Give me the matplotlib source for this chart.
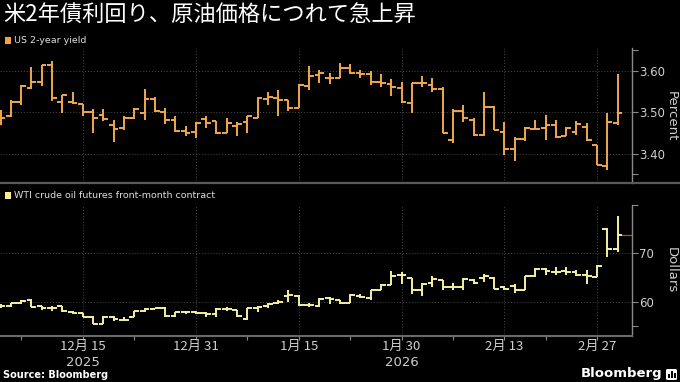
import matplotlib
matplotlib.use("Agg")
import matplotlib.pyplot as plt
from matplotlib.collections import LineCollection
from matplotlib.lines import Line2D
from matplotlib.patches import Rectangle, FancyBboxPatch
import numpy as np

# ---------------- data ----------------
title = "米2年債利回り、原油価格につれて急上昇"
yield_label = "US 2-year yield"
oil_label = "WTI crude oil futures front-month contract"

date_tick_pos = [8, 19, 29, 39, 49, 58]
date_tick_labels = ["12月 15", "12月 31", "1月 15", "1月 30", "2月 13", "2月 27"]
minor_tick_pos = [2, 13, 24, 34, 44, 53]
year_pos = [8, 39]
year_labels = ["2025", "2026"]

yield_open = [3.490, 3.490, 3.524, 3.560, 3.574, 3.615, 3.524, 3.524, 3.519, 3.500,
              3.494, 3.469, 3.461, 3.486, 3.499, 3.532, 3.500, 3.481, 3.455, 3.453,
              3.483, 3.479, 3.451, 3.467, 3.477, 3.486, 3.532, 3.534, 3.530, 3.511,
              3.564, 3.590, 3.582, 3.582, 3.607, 3.594, 3.593, 3.573, 3.569, 3.558,
              3.522, 3.570, 3.566, 3.556, 3.433, 3.504, 3.481, 3.445, 3.512, 3.453,
              3.410, 3.435, 3.459, 3.461, 3.469, 3.443, 3.453, 3.464, 3.421, 3.369, 3.473]
yield_high = [3.506, 3.530, 3.566, 3.609, 3.615, 3.625, 3.542, 3.549, 3.520, 3.507,
              3.507, 3.481, 3.491, 3.510, 3.556, 3.538, 3.510, 3.490, 3.467, 3.477,
              3.490, 3.480, 3.486, 3.477, 3.491, 3.538, 3.548, 3.554, 3.530, 3.568,
              3.612, 3.603, 3.596, 3.620, 3.617, 3.603, 3.599, 3.593, 3.580, 3.574,
              3.572, 3.588, 3.582, 3.561, 3.507, 3.518, 3.486, 3.548, 3.515, 3.477,
              3.440, 3.465, 3.482, 3.494, 3.481, 3.465, 3.480, 3.475, 3.421, 3.498, 3.593]
yield_low = [3.469, 3.489, 3.518, 3.556, 3.564, 3.528, 3.499, 3.520, 3.490, 3.451,
             3.480, 3.427, 3.457, 3.483, 3.481, 3.500, 3.472, 3.453, 3.443, 3.437,
             3.461, 3.448, 3.449, 3.443, 3.451, 3.486, 3.518, 3.491, 3.503, 3.510,
             3.553, 3.570, 3.568, 3.582, 3.593, 3.582, 3.566, 3.562, 3.540, 3.522,
             3.499, 3.562, 3.550, 3.451, 3.425, 3.477, 3.443, 3.443, 3.456, 3.397,
             3.383, 3.431, 3.456, 3.433, 3.437, 3.443, 3.445, 3.431, 3.372, 3.360, 3.469]
yield_close = [3.486, 3.524, 3.564, 3.574, 3.615, 3.534, 3.542, 3.522, 3.500, 3.486,
               3.483, 3.459, 3.486, 3.507, 3.532, 3.502, 3.481, 3.455, 3.449, 3.475,
               3.475, 3.451, 3.475, 3.472, 3.491, 3.534, 3.536, 3.530, 3.510, 3.566,
               3.588, 3.594, 3.582, 3.607, 3.594, 3.593, 3.573, 3.570, 3.561, 3.524,
               3.572, 3.570, 3.556, 3.451, 3.502, 3.486, 3.445, 3.514, 3.457, 3.410,
               3.435, 3.461, 3.459, 3.469, 3.440, 3.461, 3.472, 3.433, 3.373, 3.477, 3.499]

oil_open = [59.1, 59.1, 59.8, 60.3, 59.0, 58.6, 59.0, 57.9, 57.6, 56.9,
            55.4, 56.9, 56.2, 56.75, 58.1, 58.55, 58.6, 57.0, 57.9, 57.85,
            57.6, 57.45, 58.55, 58.2, 56.3, 58.6, 59.1, 59.65, 61.2, 61.2,
            59.3, 59.1, 60.7, 60.3, 59.8, 61.2, 60.7, 62.5, 63.4, 65.6,
            64.8, 62.4, 63.8, 64.5, 63.1, 63.0, 64.5, 64.8, 64.8, 63.0,
            63.2, 62.4, 65.2, 66.7, 66.2, 66.4, 66.2, 65.5, 65.0, 75.0, 70.8]
oil_high = [59.5, 59.8, 60.35, 60.5, 59.1, 59.1, 59.1, 58.05, 57.7, 57.0,
            57.0, 57.0, 56.75, 58.05, 58.6, 58.75, 58.8, 57.9, 58.1, 58.05,
            57.8, 58.6, 58.9, 58.3, 58.6, 59.1, 59.65, 60.3, 62.3, 61.4,
            59.65, 60.7, 60.9, 60.4, 61.5, 61.5, 62.5, 63.6, 66.4, 66.2,
            64.8, 63.8, 65.3, 64.5, 63.9, 64.8, 64.6, 65.8, 65.0, 63.2,
            63.6, 65.3, 66.9, 66.9, 67.1, 67.1, 66.5, 66.5, 67.6, 75.2, 77.7]
oil_low = [58.7, 58.95, 59.5, 58.8, 58.25, 58.1, 57.9, 57.45, 56.75, 55.3,
           55.3, 56.05, 56.05, 56.75, 57.9, 58.4, 56.9, 56.9, 57.45, 57.35,
           56.9, 56.75, 58.0, 56.9, 56.1, 57.9, 58.6, 59.5, 60.0, 59.1,
           58.95, 58.8, 59.5, 59.5, 59.65, 60.7, 60.3, 62.3, 63.4, 63.6,
           61.6, 61.2, 63.1, 62.5, 62.4, 62.5, 63.6, 64.1, 62.7, 62.3,
           61.8, 62.3, 65.0, 65.5, 65.5, 65.5, 65.3, 63.6, 65.0, 69.2, 70.3]
oil_close = [59.1, 59.65, 60.2, 58.95, 58.6, 58.75, 58.05, 57.6, 56.9, 55.4,
             56.9, 56.35, 56.2, 58.05, 58.55, 58.6, 57.0, 57.9, 57.85, 57.6,
             57.45, 58.55, 58.5, 57.0, 58.6, 58.95, 59.5, 60.0, 61.4, 59.3,
             59.3, 60.5, 60.6, 59.8, 61.4, 60.9, 62.5, 63.4, 65.3, 65.6,
             62.4, 63.6, 64.6, 63.1, 63.1, 64.6, 63.9, 65.3, 62.7, 62.7,
             62.3, 65.2, 66.7, 66.4, 66.2, 66.2, 65.5, 65.3, 67.4, 70.8, 73.8]

yield_ticks = [3.40, 3.50, 3.60]
yield_minor = [3.35, 3.65]
oil_ticks = [60, 70]
oil_minor = [55, 80]

# ---------------- style ----------------
BG = "black"
ORANGE = "#F2A84E"
YELLOW = "#F4F0A2"
GRID = "#4a4a4a"
AXC = "#8a8a8a"
TXT = "#cfcfcf"
CJK = ["Noto Sans CJK JP", "DejaVu Sans"]

W, H = 680, 382
fig = plt.figure(figsize=(W / 100, H / 100), dpi=100, facecolor=BG)


def fy(px):
    return 1 - px / H


def fx(px):
    return px / W


ax1 = fig.add_axes([0, fy(183), fx(632), (183 - 48) / H], facecolor=BG)
ax2 = fig.add_axes([0, fy(336), fx(632), (336 - 205) / H], facecolor=BG)


def ohlc(ax, o, h, l, c, color, w=0.47, lw=1.4):
    xs = np.arange(len(o))
    segs = []
    for x, oo, hh, ll, cc in zip(xs, o, h, l, c):
        segs.append([(x, ll), (x, hh)])
        segs.append([(x - w, oo), (x, oo)])
        segs.append([(x, cc), (x + w, cc)])
    ax.add_collection(LineCollection(segs, colors=color, linewidths=lw,
                                     capstyle="butt", zorder=3))


ohlc(ax1, yield_open, yield_high, yield_low, yield_close, ORANGE)
ohlc(ax2, oil_open, oil_high, oil_low, oil_close, YELLOW)

XMAX = 61.4
for ax in (ax1, ax2):
    ax.set_xlim(-0.05, XMAX)
    ax.set_xticks(date_tick_pos)
    ax.set_xticks(minor_tick_pos, minor=True)
    ax.grid(True, which="major", color=GRID, linestyle=(0, (1, 2)), linewidth=0.7)
    ax.yaxis.tick_right()
    ax.tick_params(axis="y", which="both", direction="out", length=4, width=0.8,
                   color=AXC, labelcolor=TXT, labelsize=8.5, pad=1)
    for s in ("top", "left"):
        ax.spines[s].set_visible(False)
    ax.spines["right"].set_color(AXC)
    ax.spines["right"].set_linewidth(1.0)

ax1.set_ylim(3.3288, 3.6557)
ax1.set_yticks(yield_ticks)
ax1.set_yticks(yield_minor, minor=True)
ax1.set_yticklabels([f"{v:.2f}" for v in yield_ticks])
ax1.spines["bottom"].set_visible(False)
ax1.tick_params(axis="x", which="both", length=0, labelbottom=False)

ax2.set_ylim(52.88, 80.0)
ax2.set_yticks(oil_ticks)
ax2.set_yticks(oil_minor, minor=True)
ax2.set_yticklabels([str(v) for v in oil_ticks])
ax2.spines["bottom"].set_color("#6a6a6a")
ax2.spines["bottom"].set_linewidth(1.5)
ax2.tick_params(axis="x", which="both", direction="out", length=3, width=0.8,
                color=AXC, labelcolor=TXT, labelsize=9.5, pad=0)
ax2.set_xticklabels(date_tick_labels, fontfamily=CJK)
for xp, lab in zip(year_pos, year_labels):
    ax2.annotate(lab, xy=(xp, 0), xycoords=("data", "axes fraction"),
                 xytext=(0, -19), textcoords="offset points", ha="center",
                 va="center", color=TXT, fontsize=9.5, fontfamily="DejaVu Sans")

# last price marker line
ax2.plot([len(oil_close) - 1 + 0.47, XMAX], [oil_close[-1]] * 2,
         color="#9a5a28", lw=0.9, zorder=2, clip_on=False)

# separator between panels
fig.add_artist(Line2D([0, 1], [fy(183), fy(183)], color="#5a5a5a", lw=1.6))

# title
fig.text(fx(3), fy(3), title, color="white", fontsize=16, fontfamily=CJK,
         ha="left", va="top")

# legends
fig.add_artist(Rectangle((fx(5), fy(44)), 6 / W, 7 / H, facecolor="#F5A23A",
                         edgecolor="none", transform=fig.transFigure))
fig.text(fx(14), fy(40.5), yield_label, color="#dddddd", fontsize=6.8,
         ha="left", va="center")
fig.add_artist(Rectangle((fx(5), fy(198.5)), 6 / W, 7 / H, facecolor="#F8F08A",
                         edgecolor="none", transform=fig.transFigure))
fig.text(fx(14), fy(195), oil_label, color="#dddddd", fontsize=6.8,
         ha="left", va="center")

# axis titles
fig.text(fx(671), fy(116), "Percent", rotation=270, color=TXT, fontsize=9.5,
         ha="center", va="center")
fig.text(fx(671), fy(270), "Dollars", rotation=270, color=TXT, fontsize=9.5,
         ha="center", va="center")

# source & logo
fig.text(fx(3), fy(375), "Source: Bloomberg", color="white", fontsize=7,
         fontweight="bold", ha="left", va="center")
fig.text(fx(662), fy(374), "Bloomberg", color="white", fontsize=9.5,
         fontweight="semibold", ha="right", va="center")
fig.add_artist(FancyBboxPatch((fx(666), fy(380)), 11 / W, 11 / H,
                              boxstyle="round,pad=0,rounding_size=0.003",
                              facecolor="white", edgecolor="none",
                              transform=fig.transFigure))
for k, hgt in enumerate([4, 7, 5]):
    fig.add_artist(Rectangle((fx(668 + k * 3), fy(378)), 1.6 / W, hgt / H,
                             facecolor="black", edgecolor="none",
                             transform=fig.transFigure))

fig.savefig("out.png", dpi=100, facecolor=BG)
